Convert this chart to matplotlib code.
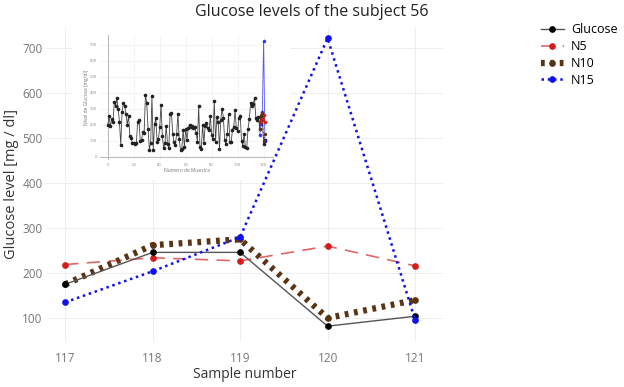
import matplotlib
matplotlib.use("Agg")
import matplotlib.pyplot as plt

plt.rcParams['font.family'] = ['Open Sans', 'DejaVu Sans']

# main chart data
samples = [117, 118, 119, 120, 121]
glucose = [175, 246, 246, 82, 104]
n5 = [219, 234, 227, 260, 216]
n10 = [175, 262, 275, 100, 140]
n15 = [135, 204, 280, 722, 96]

# inset: full glucose history before sample 117
history = [200, 255, 190, 235, 215, 340, 320, 365, 300, 215,
           75, 280, 335, 315, 270, 200, 255, 130, 115, 85,
           85, 80, 85, 220, 230, 100, 105, 155, 150, 385,
           335, 175, 45, 85, 380, 45, 205, 240, 95, 110,
           185, 325, 130, 55, 85, 195, 80, 55, 270, 275,
           145, 90, 75, 140, 270, 110, 40, 50, 170, 60,
           175, 105, 180, 200, 185, 190, 180, 185, 150, 95,
           315, 60, 50, 200, 85, 195, 210, 180, 165, 255,
           135, 110, 350, 95, 250, 220, 50, 230, 300, 245,
           105, 80, 145, 265, 90, 90, 170, 185, 290, 180,
           160, 240, 255, 100, 70, 145, 60, 55, 175, 235,
           335, 320, 330, 365, 245, 230, 250]

glucose_color = '#000000'
n5_color = '#d41c1c'
n10_color = '#5a3412'
n15_color = '#1010f0'
grid_color = '#eeeeee'
tick_color = '#777777'

fig = plt.figure(figsize=(6.24, 3.87), dpi=100)
rect = [0.075, 0.12, 0.635, 0.808]
xlim = (116.79, 121.32)
ylim = (50, 745)

# base axes: grid, ticks, labels
ax = fig.add_axes(rect)
ax.set_xlim(*xlim)
ax.set_ylim(*ylim)
ax.set_xticks(samples)
ax.set_yticks([100, 200, 300, 400, 500, 600, 700])
ax.grid(True, color=grid_color, lw=0.8)
ax.set_axisbelow(True)
for s in ax.spines.values():
    s.set_visible(False)
ax.tick_params(axis='y', length=0, labelsize=8.5, labelcolor=tick_color, pad=3)
ax.tick_params(axis='x', length=0, labelsize=8.5, labelcolor=tick_color, pad=8)
ax.set_xlabel('Sample number', fontsize=10, color='#333333', labelpad=2)
ax.set_ylabel('Glucose level [mg / dl]', fontsize=10.5, color='#333333', labelpad=2)
fig.text(0.5, 0.968, 'Glucose levels of the subject 56', ha='center', va='center',
         fontsize=11.5, color='#222222')

# white panel behind the inset (covers main grid)
bg = fig.add_axes([72 / 624, 1 - 180 / 387, 218 / 624, 152 / 387])
bg.set_facecolor('white')
bg.set_xticks([])
bg.set_yticks([])
for s in bg.spines.values():
    s.set_visible(False)

ins = fig.add_axes([100 / 624, 1 - 160 / 387, 174 / 624, 125 / 387])
full_x = list(range(len(history))) + samples
full_g = history + glucose
ins.plot(full_x, full_g, color='#444444', lw=0.6, marker='o', ms=1.6,
         mfc='#222222', mec='#222222', zorder=3)
ins.plot(samples, n15, color=n15_color, lw=0.6, marker='o', ms=1.6, alpha=0.7, zorder=4)
ins.plot(samples, n5, color=n5_color, lw=0.8, marker='o', ms=1.6, zorder=5)
ins.plot(samples, n10, color=n10_color, lw=0.8, ls=':', marker='o', ms=1.4, zorder=5)
ins.set_xlim(-6, 128)
ins.set_ylim(-20, 760)
ins.set_xticks([0, 20, 40, 60, 80, 100, 120])
ins.set_yticks([0, 100, 200, 300, 400, 500, 600, 700])
ins.grid(True, color='#f0f0f0', lw=0.5)
ins.set_axisbelow(True)
for s in ins.spines.values():
    s.set_visible(False)
ins.axhline(0, color='#bbbbbb', lw=0.8, zorder=1)
ins.axvline(0, color='#bbbbbb', lw=0.8, zorder=1)
ins.tick_params(length=0, labelsize=3, labelcolor='#888888', pad=2)
ins.set_xlabel('Numero de Muestra', fontsize=3.5, color='#777777', labelpad=1)
ins.set_ylabel('Nivel de Glucosa [mg/dl]', fontsize=3.5, color='#777777', labelpad=1)

# top axes: the main lines drawn over the inset
top = fig.add_axes(rect)
top.patch.set_visible(False)
top.axis('off')
top.set_xlim(*xlim)
top.set_ylim(*ylim)
top.plot(samples, glucose, color='#555555', lw=1.0, marker='o', ms=3.8,
         mfc=glucose_color, mec=glucose_color, label='Glucose', zorder=4)
top.plot(samples, n5, color='#e06666', lw=1.2, ls=(0, (8, 5)), marker='o', ms=3.8,
         mfc=n5_color, mec=n5_color, label='N5', zorder=3)
top.plot(samples, n10, color=n10_color, lw=4.5, ls=(0, (0.6, 0.9)), marker='o', ms=3.8,
         mfc=n10_color, mec=n10_color, label='N10', zorder=3)
top.plot(samples, n15, color=n15_color, lw=1.8, ls=(0, (1, 1.5)), marker='o', ms=3.8,
         mfc=n15_color, mec=n15_color, label='N15', zorder=5)

top.legend(loc='upper left', bbox_to_anchor=(1.235, 1.03), frameon=False, fontsize=9,
           handlelength=1.8, labelspacing=0.3, borderaxespad=0, handletextpad=0.6)

fig.savefig('out.png', dpi=100)
